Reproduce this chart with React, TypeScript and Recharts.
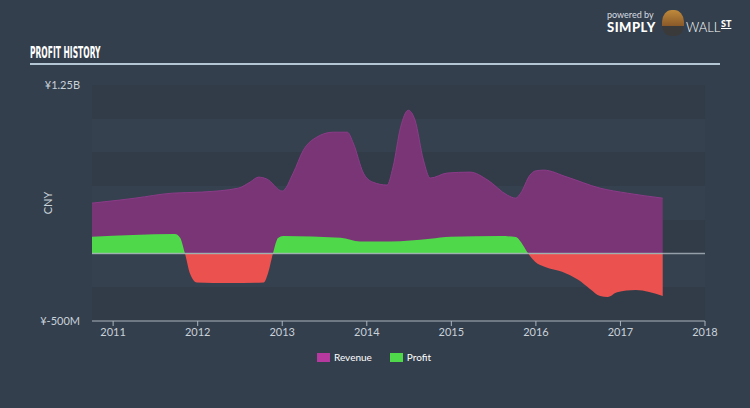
import { Area, AreaChart, CartesianGrid, ReferenceLine, XAxis, YAxis } from 'recharts'

// dates are decimal years
const revenueDates = [
  2010.75, 2011.08, 2011.26, 2011.7, 2012.05, 2012.48, 2012.62, 2012.72, 2012.82, 2013.0,
  2013.13, 2013.25, 2013.41, 2013.6, 2013.77, 2013.84, 2013.96, 2014.07, 2014.24, 2014.31,
  2014.4, 2014.49, 2014.57, 2014.67, 2014.75, 2014.95, 2015.22, 2015.43, 2015.66, 2015.76,
  2015.82, 2015.93, 2015.99, 2016.09, 2016.37, 2016.76, 2017.08, 2017.5,
]
const revenueValues = [
  374, 397, 411, 448, 456, 485, 530, 567, 552, 463,
  597, 767, 864, 900, 900, 819, 597, 530, 508, 641,
  937, 1063, 990, 693, 560, 597, 604, 545, 434, 411,
  448, 582, 612, 619, 567, 485, 448, 411,
]

const profitDates = [
  2010.75, 2011.73, 2011.79, 2011.85, 2011.91, 2011.99, 2012.38, 2012.78, 2012.83, 2012.89,
  2012.95, 2013.01, 2013.69, 2013.92, 2014.28, 2014.75, 2014.99, 2015.58, 2015.76, 2015.84,
  2015.91, 2015.99, 2016.11, 2016.31, 2016.5, 2016.64, 2016.76, 2016.85, 2016.96, 2017.18,
  2017.5,
]
const profitValues = [
  124, 145, 120, 0, -150, -215, -219, -215, -150, 0,
  115, 130, 118, 90, 90, 110, 125, 130, 122, 70,
  0, -60, -100, -135, -195, -262, -315, -322, -287, -270,
  -315,
]

const yearTicks = [2011, 2012, 2013, 2014, 2015, 2016, 2017, 2018]
const valueTicks = [-500, -250, 0, 250, 500, 750, 1000, 1250]
const tickLabels: Record<number, string> = { 1250: '¥1.25B', [-500]: '¥-500M' }

const revenueData = revenueDates.map((date, i) => ({ date, revenue: revenueValues[i] }))
const profitData = profitDates.map((date, i) => ({ date, profit: profitValues[i] }))

const maxProfit = Math.max(0, ...profitValues)
const minProfit = Math.min(0, ...profitValues)
const zeroOffset = maxProfit / (maxProfit - minProfit)

const font = 'Lato, "Open Sans", sans-serif'
const textColor = '#c9d1d9'

export default function App() {
  return (
    <div
      style={{
        position: 'absolute',
        left: 0,
        top: 0,
        width: 750,
        height: 408,
        background: '#333f4d',
        fontFamily: font,
        overflow: 'hidden',
      }}
    >
      {/* title */}
      <div
        style={{
          position: 'absolute',
          left: 30,
          top: 44,
          color: '#ffffff',
          fontFamily: '"Liberation Sans Narrow", "DejaVu Sans Condensed", sans-serif',
          fontWeight: 'bold',
          fontSize: 15,
          transform: 'scaleX(0.56)',
          transformOrigin: 'left top',
          whiteSpace: 'nowrap',
        }}
      >
        PROFIT HISTORY
      </div>
      <div
        style={{ position: 'absolute', left: 30, top: 63, width: 690, height: 2, background: '#b4c6d4' }}
      />

      {/* logo */}
      <div style={{ position: 'absolute', left: 607, top: 9, color: '#d8dde2', fontSize: 9 }}>
        powered by
      </div>
      <div
        style={{
          position: 'absolute',
          left: 607,
          top: 19,
          color: '#ffffff',
          fontSize: 13,
          fontWeight: 900,
          letterSpacing: 0.5,
        }}
      >
        SIMPLY
      </div>
      <div
        style={{
          position: 'absolute',
          left: 662,
          top: 10,
          width: 22,
          height: 26,
          borderRadius: '45% 45% 40% 40%',
          background: 'linear-gradient(#c08a3a, #8a5a2a 60%, #3a3a3a 61%)',
        }}
      />
      <div
        style={{ position: 'absolute', left: 686, top: 19, color: '#ffffff', fontSize: 13, fontWeight: 300 }}
      >
        WALL
      </div>
      <div
        style={{
          position: 'absolute',
          left: 721,
          top: 18,
          color: '#ffffff',
          fontSize: 9,
          fontWeight: 900,
          textDecoration: 'underline',
        }}
      >
        ST
      </div>

      {/* y axis name */}
      <div
        style={{
          position: 'absolute',
          left: 47,
          top: 203,
          color: textColor,
          fontSize: 11,
          transform: 'translate(-50%, -50%) rotate(-90deg)',
        }}
      >
        CNY
      </div>

      <AreaChart width={750} height={408} margin={{ top: 85, right: 45, bottom: 57, left: 0 }}>
        <defs>
          <linearGradient id="profitFill" x1="0" y1="0" x2="0" y2="1">
            <stop offset={zeroOffset} stopColor="#4fd84a" />
            <stop offset={zeroOffset} stopColor="#ea514f" />
          </linearGradient>
        </defs>
        <CartesianGrid
          vertical={false}
          stroke="none"
          horizontalFill={['#313c48', '#35414e']}
          fillOpacity={1}
        />
        <XAxis
          type="number"
          dataKey="date"
          domain={[2010.75, 2018]}
          ticks={yearTicks}
          allowDataOverflow
          height={30}
          stroke="#aab4be"
          tickSize={5}
          tickMargin={2}
          tick={{ fill: textColor, fontSize: 11, fontFamily: font }}
        />
        <YAxis
          type="number"
          domain={[-500, 1250]}
          ticks={valueTicks}
          width={92}
          axisLine={false}
          tickLine={false}
          tickMargin={6}
          tickFormatter={(v: number) => tickLabels[v] ?? ''}
          tick={{ fill: textColor, fontSize: 11, fontFamily: font }}
        />
        <Area
          data={revenueData}
          dataKey="revenue"
          type="monotone"
          fill="#7a3576"
          fillOpacity={1}
          stroke="#8b3b88"
          strokeWidth={1}
          isAnimationActive={false}
        />
        <Area
          data={profitData}
          dataKey="profit"
          type="monotone"
          fill="url(#profitFill)"
          fillOpacity={1}
          stroke="none"
          isAnimationActive={false}
        />
        <ReferenceLine y={0} stroke="#b7c0c9" strokeOpacity={0.75} strokeWidth={1.5} />
      </AreaChart>

      {/* legend */}
      <div
        style={{
          position: 'absolute',
          left: 317,
          top: 351,
          display: 'flex',
          alignItems: 'center',
          color: '#ffffff',
          fontSize: 10,
        }}
      >
        <span style={{ width: 13, height: 9, background: '#b5399f', marginRight: 4 }} />
        <span style={{ marginRight: 18 }}>Revenue</span>
        <span style={{ width: 13, height: 9, background: '#4fd84a', marginRight: 4 }} />
        <span>Profit</span>
      </div>
    </div>
  )
}
